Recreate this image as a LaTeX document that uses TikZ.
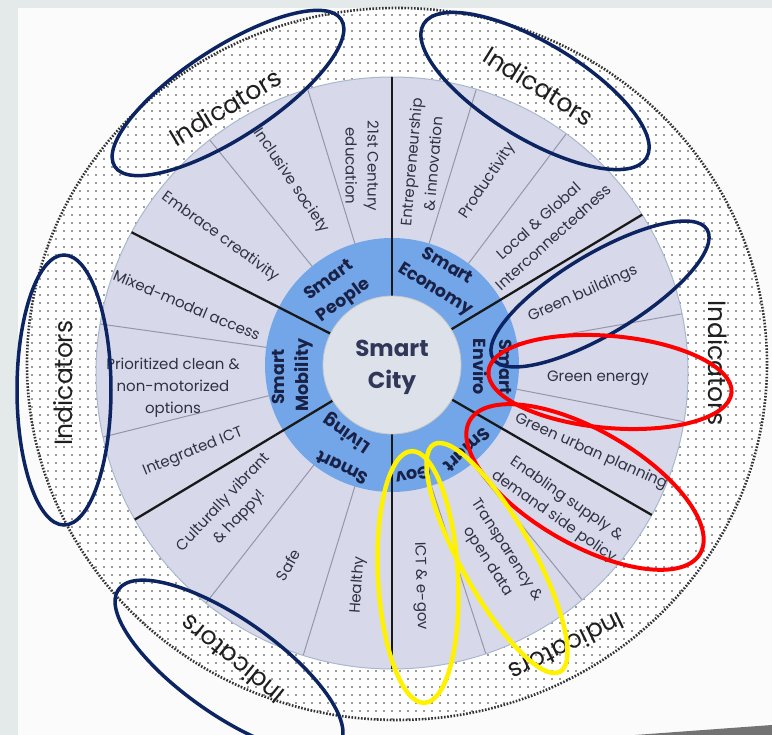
\documentclass[tikz,border=0pt]{standalone}
\usepackage{fontspec}
\setmainfont{Poppins}
\usetikzlibrary{patterns.meta}

\definecolor{pagegray}{HTML}{E4EAEA}
\definecolor{slidewhite}{HTML}{FBFBFB}
\definecolor{disclav}{HTML}{D7D9EB}
\definecolor{discedge}{HTML}{A9B8CE}
\definecolor{ringblue}{HTML}{72A6E9}
\definecolor{hubgray}{HTML}{DDE2EA}
\definecolor{navyink}{HTML}{0C2462}
\definecolor{labelink}{HTML}{303142}
\definecolor{ringink}{HTML}{1A2146}
\definecolor{spokegray}{HTML}{9497A8}

\begin{document}
\begin{tikzpicture}[x=1pt, y=-1pt,
  item/.style={text=labelink, font=\fontsize{15}{22}\selectfont, align=center, inner sep=0pt},
  ringword/.style={text=ringink, font=\bfseries\fontsize{17.5}{20}\selectfont, inner sep=0pt},
  indic/.style={text=black!88, font=\fontsize{25}{29}\selectfont, inner sep=0pt},
  navyloop/.style={draw=navyink, line width=3.5pt},
  redloop/.style={draw=red, line width=4pt},
  yellowloop/.style={draw=yellow, line width=4.5pt}]

  %%-- SLIDE BACKGROUND (772 x 735 px) --%%
  \fill[pagegray] (0,0) rectangle (772,735);
  \fill[slidewhite] (18,8) rectangle (772,735);
  \fill[black!55] (635,735) -- (772,725) -- (772,735) -- cycle;  % slide shadow
  \useasboundingbox (0,0) rectangle (772,735);

  %%-- OUTER DOTTED RING (indicators band) --%%
  \fill[white] (397,364) ellipse [x radius=370, y radius=356];
  \fill[pattern={Dots[radius=0.8pt, distance=8pt]}, pattern color=black!80]
    (397,364) ellipse [x radius=370, y radius=356];
  \draw[black!80, line width=2.6pt, dash pattern=on 1.6pt off 1.6pt]
    (397,364) ellipse [x radius=370, y radius=356];

  %%-- LIGHT DISC OF SUB-GOALS --%%
  \fill[disclav] (392,373) circle [radius=296];
  \fill[pattern={Dots[radius=0.6pt, distance=8pt]}, pattern color=black!12]
    (392,373) circle [radius=296];

  %% thin spokes between sub-goals (angles in degrees, ccw from east)
  \begin{scope}
    \clip (392,373) circle [radius=296];
    \foreach \a in {107,129,73,53,10,-11,-51,-72,-107,-128,172,194} {
      \draw[spokegray, line width=1pt] (392,365) -- ++(-\a:330);
    }
  \end{scope}
  \draw[discedge, line width=1pt] (392,373) circle [radius=296];

  %%-- BLUE RING OF SIX DIMENSIONS --%%
  \fill[ringblue] (392,365) circle [radius=127];

  %% thick spokes between dimensions
  \begin{scope}
    \clip (392,373) circle [radius=296];
    \foreach \a in {90,31,-30,-90,-149,153} {
      \draw[black!90, line width=2.3pt] (392,365) -- ++(-\a:330);
    }
  \end{scope}

  %%-- HUB --%%
  \filldraw[fill=hubgray, draw=black!22, line width=0.8pt] (392,365) circle [radius=69];
  \node[text=ringink!90!white, font=\bfseries\fontsize{23}{32}\selectfont, align=center]
    (hub) at (392,367) {Smart\\City};

  %%-- RING WORDS (text runs clockwise, top facing out) --%%
  \node[ringword, rotate=36]   (peopleA)  at (328,279) {Smart};
  \node[ringword, rotate=36]   (peopleB)  at (344,301) {People};
  \node[ringword, rotate=-30]  (econA)    at (448,265) {Smart};
  \node[ringword, rotate=-32]  (econB)    at (435,290) {Economy};
  \node[ringword, rotate=-90]  (envA)     at (506,367) {Smart};
  \node[ringword, rotate=-90]  (envB)     at (480,367) {Enviro};
  \node[ringword, rotate=-138] (govA)     at (467,450) {Smart};
  \node[ringword, rotate=-168] (govB)     at (413,475) {Gov};
  \node[ringword, rotate=154]  (livA)     at (342,468) {Smart};
  \node[ringword, rotate=146]  (livB)     at (347,433) {Living};
  \node[ringword, rotate=90]   (mobA)     at (278,377) {Smart};
  \node[ringword, rotate=90]   (mobB)     at (304,375) {Mobility};

  %%-- SUB-GOALS: SMART PEOPLE --%%
  \node[item, rotate=-90] (edu)   at (362,166) {21st Century\\education};
  \node[item, rotate=-56] (incl)  at (291,181) {Inclusive society};
  \node[item, rotate=-36] (creat) at (220,237) {Embrace creativity};

  %%-- SUB-GOALS: SMART ECONOMY --%%
  \node[item, rotate=85]  (entre) at (422,163) {Entrepreneurship\\\& innovation};
  \node[item, rotate=56]  (prod)  at (488,181) {Productivity};
  \node[item, rotate=42]  (glob)  at (546,229) {Local \& Global\\Interconnectedness};

  %%-- SUB-GOALS: SMART ENVIRO --%%
  \node[item, rotate=24]  (gbuild)  at (583,294) {Green buildings};
  \node[item]             (genergy) at (598,378) {Green energy};
  \node[item, rotate=-24] (gurban)  at (591,452) {Green urban planning};

  %%-- SUB-GOALS: SMART GOV --%%
  \node[item, rotate=-35] (enab)   at (560,508) {Enabling supply \&\\demand side policy};
  \node[item, rotate=-57] (transp) at (497,556) {Transparency \&\\open data};
  \node[item, rotate=-88] (egov)   at (420,586) {ICT \& e-gov};

  %%-- SUB-GOALS: SMART LIVING --%%
  \node[item, rotate=86] (healthy) at (358,585) {Healthy};
  \node[item, rotate=60] (safe)    at (288,565) {Safe};
  \node[item, rotate=47] (cult)    at (232,510) {Culturally vibrant\\\& happy!};

  %%-- SUB-GOALS: SMART MOBILITY --%%
  \node[item, rotate=-23] (mixed) at (187,305) {Mixed-modal access};
  \node[item]             (prior) at (173,388) {Prioritized clean \&\\non-motorized\\options};
  \node[item, rotate=22]  (ict)   at (193,452) {Integrated ICT};

  %%-- INDICATORS IN THE OUTER BAND --%%
  \node[indic, rotate=31]   (indA) at (225,107) {Indicators};
  \node[indic, rotate=-32]  (indB) at (539,86)  {Indicators};
  \node[indic, rotate=-90]  (indC) at (718,363) {Indicators};
  \node[indic, rotate=-154] (indD) at (567,647) {Indicators};
  \node[indic, rotate=141]  (indE) at (232,660) {Indicators};
  \node[indic, rotate=90]   (indF) at (63,383)  {Indicators};

  %%-- HIGHLIGHT LOOPS --%%
  \draw[navyloop, rotate around={33:(228,93)}]   (228,93)  ellipse [x radius=135, y radius=45];
  \draw[navyloop, rotate around={-31:(535,91)}]  (535,91)  ellipse [x radius=130, y radius=48];
  \draw[navyloop]                                (64,390)  ellipse [x radius=47, y radius=135];
  \draw[navyloop, rotate around={-35:(229,667)}] (229,667) ellipse [x radius=135, y radius=48];
  \draw[navyloop, rotate around={31:(600,294)}]  (600,294) ellipse [x radius=125, y radius=40];
  \draw[redloop, rotate around={-5:(610,382)}]   (610,382) ellipse [x radius=122, y radius=46];
  \draw[redloop, rotate around={-30:(585,487)}]  (585,487) ellipse [x radius=133, y radius=57];
  \draw[yellowloop, rotate around={3:(418,577)}] (418,577) ellipse [x radius=40, y radius=126];
  \draw[yellowloop, rotate around={-61:(497,558)}] (497,558) ellipse [x radius=130, y radius=36];

\end{tikzpicture}
\end{document}
